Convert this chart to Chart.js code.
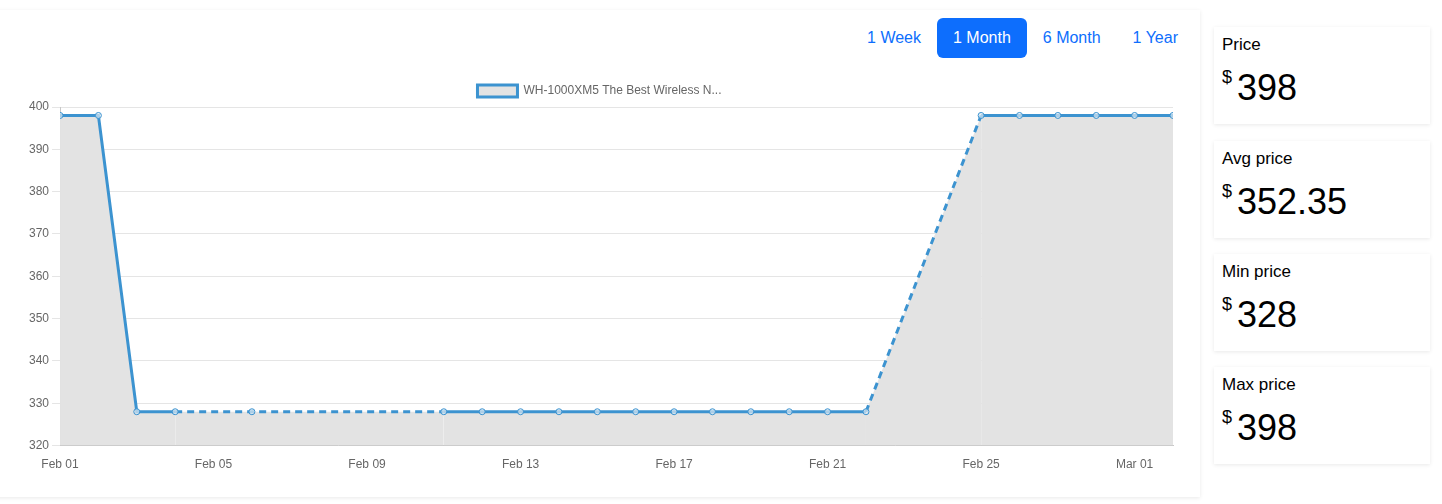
<!DOCTYPE html>
<html>
<head>
<meta charset="utf-8">
<script src="https://cdn.jsdelivr.net/npm/chart.js@4"></script>
<style>
  body { margin: 0; background: #fff; font-family: "Liberation Sans", Arial, sans-serif; }
  .chartCard { position: absolute; left: -4px; top: 10px; width: 1204px; height: 487px; background: #fff;
    box-shadow: 0 1px 4px rgba(0,0,0,0.09); }
  .btns { position: absolute; right: 6px; top: 8px; display: flex; }
  .btn { font-size: 16px; color: #0d6efd; padding: 9px 16px; border-radius: 6px; margin-left: 0; line-height: 22px; }
  .btn.active { background: #0d6efd; color: #fff; }
  .chartBox { position: absolute; left: 30px; top: 65px; width: 1156px; height: 401px; }
  .stat { position: absolute; left: 1214px; width: 216px; height: 97px; background: #fff;
    box-shadow: 0 1px 4px rgba(0,0,0,0.09); }
  .stat .label { position: absolute; left: 8px; top: 8px; font-size: 17px; color: #000; }
  .stat .value { position: absolute; left: 8px; top: 40px; font-size: 36px; color: #000; }
  .stat .value sup { font-size: 18px; position: relative; top: -4px; margin-right: 5px; }
</style>
</head>
<body>
<div class="chartCard">
  <div class="btns">
    <div class="btn">1 Week</div>
    <div class="btn active">1 Month</div>
    <div class="btn">6 Month</div>
    <div class="btn">1 Year</div>
  </div>
  <div class="chartBox"><canvas id="priceChart"></canvas></div>
</div>
<div class="stat" style="top:27px"><div class="label">Price</div><div class="value"><sup>$</sup>398</div></div>
<div class="stat" style="top:141px"><div class="label">Avg price</div><div class="value"><sup>$</sup>352.35</div></div>
<div class="stat" style="top:254px"><div class="label">Min price</div><div class="value"><sup>$</sup>328</div></div>
<div class="stat" style="top:367px"><div class="label">Max price</div><div class="value"><sup>$</sup>398</div></div>

<script>
// price history (missing days show as dashed segments)
const productName = 'WH-1000XM5 The Best Wireless N...'
const dates = ['2023-02-01','2023-02-02','2023-02-03','2023-02-04','2023-02-06',
    '2023-02-11','2023-02-12','2023-02-13','2023-02-14','2023-02-15','2023-02-16',
    '2023-02-17','2023-02-18','2023-02-19','2023-02-20','2023-02-21','2023-02-22',
    '2023-02-25','2023-02-26','2023-02-27','2023-02-28','2023-03-01','2023-03-02']
const prices = [398,398,328,328,328,
    328,328,328,328,328,328,
    328,328,328,328,328,328,
    398,398,398,398,398,398]
const monthNames = ['Jan','Feb','Mar','Apr','May','Jun','Jul','Aug','Sep','Oct','Nov','Dec']
const startDate = '2023-02-01'
const endDate = '2023-03-02'
const yTicks = [320, 330, 340, 350, 360, 370, 380, 390, 400]

const DAY = 86400000
function dayOffset(d){
    return (Date.parse(d) - Date.parse(startDate)) / DAY
}
function dayLabel(offset){
    var d = new Date(Date.parse(startDate) + offset * DAY)
    return monthNames[d.getUTCMonth()] + ' ' + String(d.getUTCDate()).padStart(2, '0')
}

var points = dates.map(function(d, i){ return {x: dayOffset(d), y: prices[i]} })

Chart.defaults.font.family = '"Liberation Sans", Arial, Helvetica, sans-serif'
Chart.defaults.font.size = 12
Chart.defaults.color = '#666'

const ctx = document.getElementById('priceChart').getContext('2d')
const chart = new Chart(ctx, {
    type: 'line',
    data: {
        datasets: [{
            label: productName,
            data: points,
            backgroundColor: '#e3e3e3',
            borderColor: '#3c93d0',
            borderWidth: 3,
            pointRadius: 3,
            pointBorderWidth: 1,
            pointBackgroundColor: 'rgba(220,232,242,0.7)',
            pointBorderColor: '#3c93d0',
            fill: 'start',
            tension: 0,
            segment: {
                // dashed when days are missing between two points
                borderDash: function(c){ return (c.p1.parsed.x - c.p0.parsed.x > 1) ? [7, 5] : undefined }
            }
        }]
    },
    options: {
        responsive: true,
        maintainAspectRatio: false,
        animation: false,
        layout: { padding: { right: 9 } },
        plugins: {
            legend: {
                labels: { boxWidth: 40, boxHeight: 12, color: '#666' }
            },
            tooltip: { enabled: false }
        },
        scales: {
            x: {
                type: 'linear',
                min: 0,
                max: dayOffset(endDate),
                grid: { display: false },
                border: { color: '#c8c8c8' },
                ticks: {
                    stepSize: 4,
                    includeBounds: false,
                    maxRotation: 0,
                    padding: 4,
                    callback: function(v){ return dayLabel(v) }
                }
            },
            y: {
                min: yTicks[0],
                max: yTicks[yTicks.length - 1],
                grid: { color: 'rgba(0,0,0,0.1)' },
                border: { color: '#c8c8c8' },
                afterBuildTicks: function(axis){ axis.ticks = yTicks.map(function(v){ return {value: v} }) },
                ticks: { padding: 3 }
            }
        }
    }
})
</script>
</body>
</html>
